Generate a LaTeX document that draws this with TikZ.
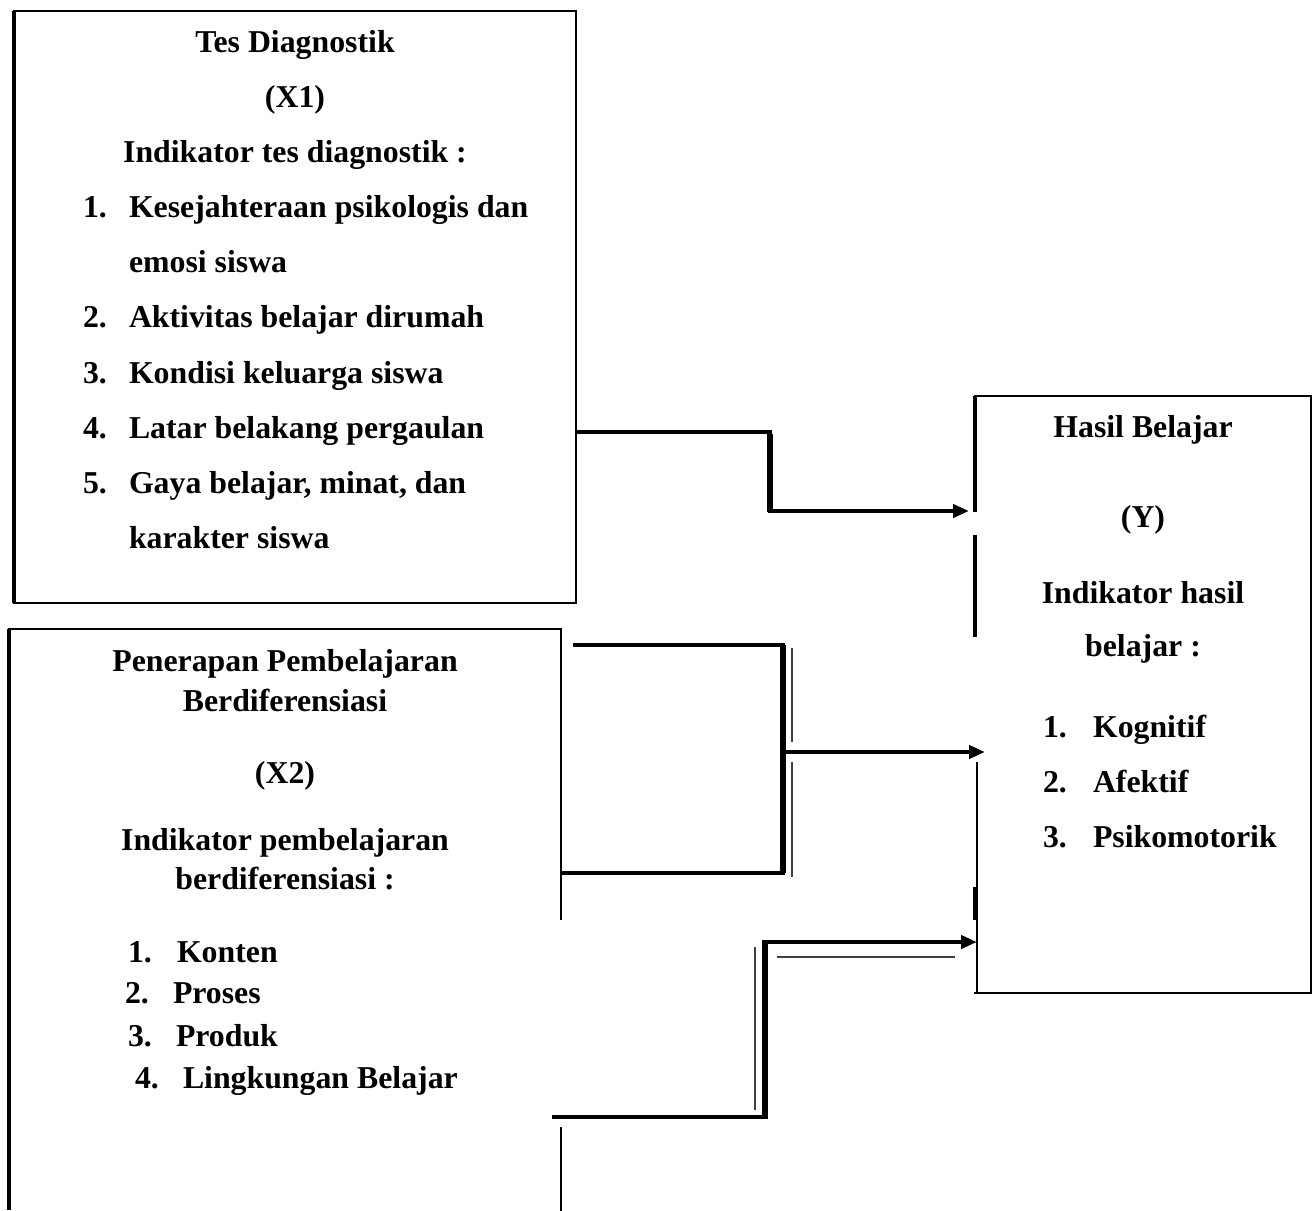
\documentclass[tikz,border=0pt]{standalone}
\usepackage{fontspec}
\setmainfont{Liberation Serif}
\usetikzlibrary{arrows.meta,calc}
\begin{document}
\begin{tikzpicture}[x=1pt,y=-1pt,
  boxframe/.style={draw=none,rectangle,inner sep=0pt,outer sep=0pt},
  txt/.style={font=\bfseries\fontsize{31.8}{38}\selectfont,inner sep=0pt,outer sep=0pt},
  ctitle/.style={txt,anchor=base},
  litem/.style={txt,anchor=base west},
  thinb/.style={line width=1.8pt,line cap=rect},
  thickb/.style={line width=3.5pt},
  conn/.style={line width=4.5pt,line join=miter},
  connv/.style={line width=6.5pt},
  thinpar/.style={line width=1.3pt,black!75},
  tip/.style={-{Triangle[length=16pt,width=13pt]}}
]
\useasboundingbox (0,0) rectangle (1314,1210);
\fill[white] (0,0) rectangle (1314,1210);

% boxes (frames drawn separately, with their gaps)
\node[boxframe,minimum width=562pt,minimum height=592pt] (x1) at (295,307) {};
\node[boxframe,minimum width=552pt,minimum height=581pt] (x2) at (285,919.5) {};
\node[boxframe,minimum width=336pt,minimum height=597pt] (y) at (1143,694.5) {};

% X1 frame
\draw[thinb] (x1.north west) -- (x1.north east) -- (x1.south east) -- (x1.south west);
\draw[thickb] (x1.south west) -- (x1.north west);

% X2 frame
\draw[thinb] (x2.north west) -- (x2.north east) -- ($(x2.north east)+(0,290)$);
\draw[thinb] ($(x2.south east)+(0,-82)$) -- (x2.south east);
\draw[thickb] (x2.north west) -- (x2.south west);

% Y frame
\draw[thinb] (y.north west) -- (y.north east) -- (y.south east) -- (y.south west);
\draw[thickb] (y.north west) -- ($(y.north west)+(0,116)$);
\draw[thickb] ($(y.north west)+(0,139)$) -- ($(y.north west)+(0,241)$);
\draw[thinb] ($(y.south west)+(2,-230)$) -- ($(y.south west)+(2,0)$);
\draw[thickb] ($(y.south west)+(0,-106)$) -- ($(y.south west)+(0,-73)$);

% X1 text
\node[ctitle] (x1t1) at (295,52) {Tes Diagnostik};
\node[ctitle] (x1t2) at (295,107) {(X1)};
\node[ctitle] (x1t3) at (295,162) {Indikator tes diagnostik :};
\node[litem] (x1n1) at (83,217) {1.};
\node[litem] (x1i1) at (129,217) {Kesejahteraan psikologis dan};
\node[litem] (x1i1b) at (129,272) {emosi siswa};
\node[litem] (x1n2) at (83,327) {2.};
\node[litem] (x1i2) at (129,327) {Aktivitas belajar dirumah};
\node[litem] (x1n3) at (83,383) {3.};
\node[litem] (x1i3) at (129,383) {Kondisi keluarga siswa};
\node[litem] (x1n4) at (83,438) {4.};
\node[litem] (x1i4) at (129,438) {Latar belakang pergaulan};
\node[litem] (x1n5) at (83,493) {5.};
\node[litem] (x1i5) at (129,493) {Gaya belajar, minat, dan};
\node[litem] (x1i5b) at (129,548) {karakter siswa};

% X2 text
\node[ctitle] (x2t1) at (285,671) {Penerapan Pembelajaran};
\node[ctitle] (x2t2) at (285,711) {Berdiferensiasi};
\node[ctitle] (x2t3) at (285,783) {(X2)};
\node[ctitle] (x2t4) at (285,850) {Indikator pembelajaran};
\node[ctitle] (x2t5) at (285,889) {berdiferensiasi :};
\node[litem] (x2n1) at (128,962) {1.};
\node[litem] (x2i1) at (177,962) {Konten};
\node[litem] (x2n2) at (125,1003) {2.};
\node[litem] (x2i2) at (173,1003) {Proses};
\node[litem] (x2n3) at (128,1046) {3.};
\node[litem] (x2i3) at (176,1046) {Produk};
\node[litem] (x2n4) at (135,1088) {4.};
\node[litem] (x2i4) at (183,1088) {Lingkungan Belajar};

% Y text
\node[ctitle] (yt1) at (1143,437) {Hasil Belajar};
\node[ctitle] (yt2) at (1143,527) {(Y)};
\node[ctitle] (yt3) at (1143,603) {Indikator hasil};
\node[ctitle] (yt4) at (1143,656) {belajar :};
\node[litem] (yn1) at (1043,737) {1.};
\node[litem] (yi1) at (1093,737) {Kognitif};
\node[litem] (yn2) at (1043,792) {2.};
\node[litem] (yi2) at (1093,792) {Afektif};
\node[litem] (yn3) at (1043,847) {3.};
\node[litem] (yi3) at (1093,847) {Psikomotorik};

% connector X1 -> Y
\coordinate (k1) at (770,432);
\coordinate (k2) at (770,511);
\draw[conn,tip] (x1.east |- k1) -- (k1) -- (k2) -- ($(y.west |- k2)+(-6,0)$);
\draw[connv] ($(k1)+(0,2)$) -- ($(k2)+(0,1)$);

% connector X2 -> Y (bracket)
\coordinate (m1) at (783,645);
\coordinate (m2) at (783,873);
\coordinate (m3) at (783,752);
\draw[conn] ($(x2.east |- m1)+(12,0)$) -- (m1) -- (m2) -- (x2.east |- m2);
\draw[line width=6pt] (m1) -- (m2);
\draw[conn,tip] (m3) -- ($(y.west |- m3)+(10,0)$);
\draw[thinpar] ($(m1)+(9,3)$) -- ($(m3)+(9,-10)$);
\draw[thinpar] ($(m3)+(9,10)$) -- ($(m2)+(9,4)$);

% connector X2 (lower) -> Y
\coordinate (n1) at (765,1117);
\coordinate (n2) at (765,942);
\draw[conn,tip] ($(x2.east |- n1)+(-9,0)$) -- (n1) -- (n2) -- ($(y.west |- n2)+(2,0)$);
\draw[line width=5.5pt] ($(n1)+(0,2)$) -- ($(n2)+(0,-2)$);
\draw[thinpar] ($(n2)+(-10,5)$) -- ($(n1)+(-10,-7)$);
\draw[thinpar] ($(n2)+(12,15)$) -- ($(y.west |- n2)+(-20,15)$);
\end{tikzpicture}
\end{document}
